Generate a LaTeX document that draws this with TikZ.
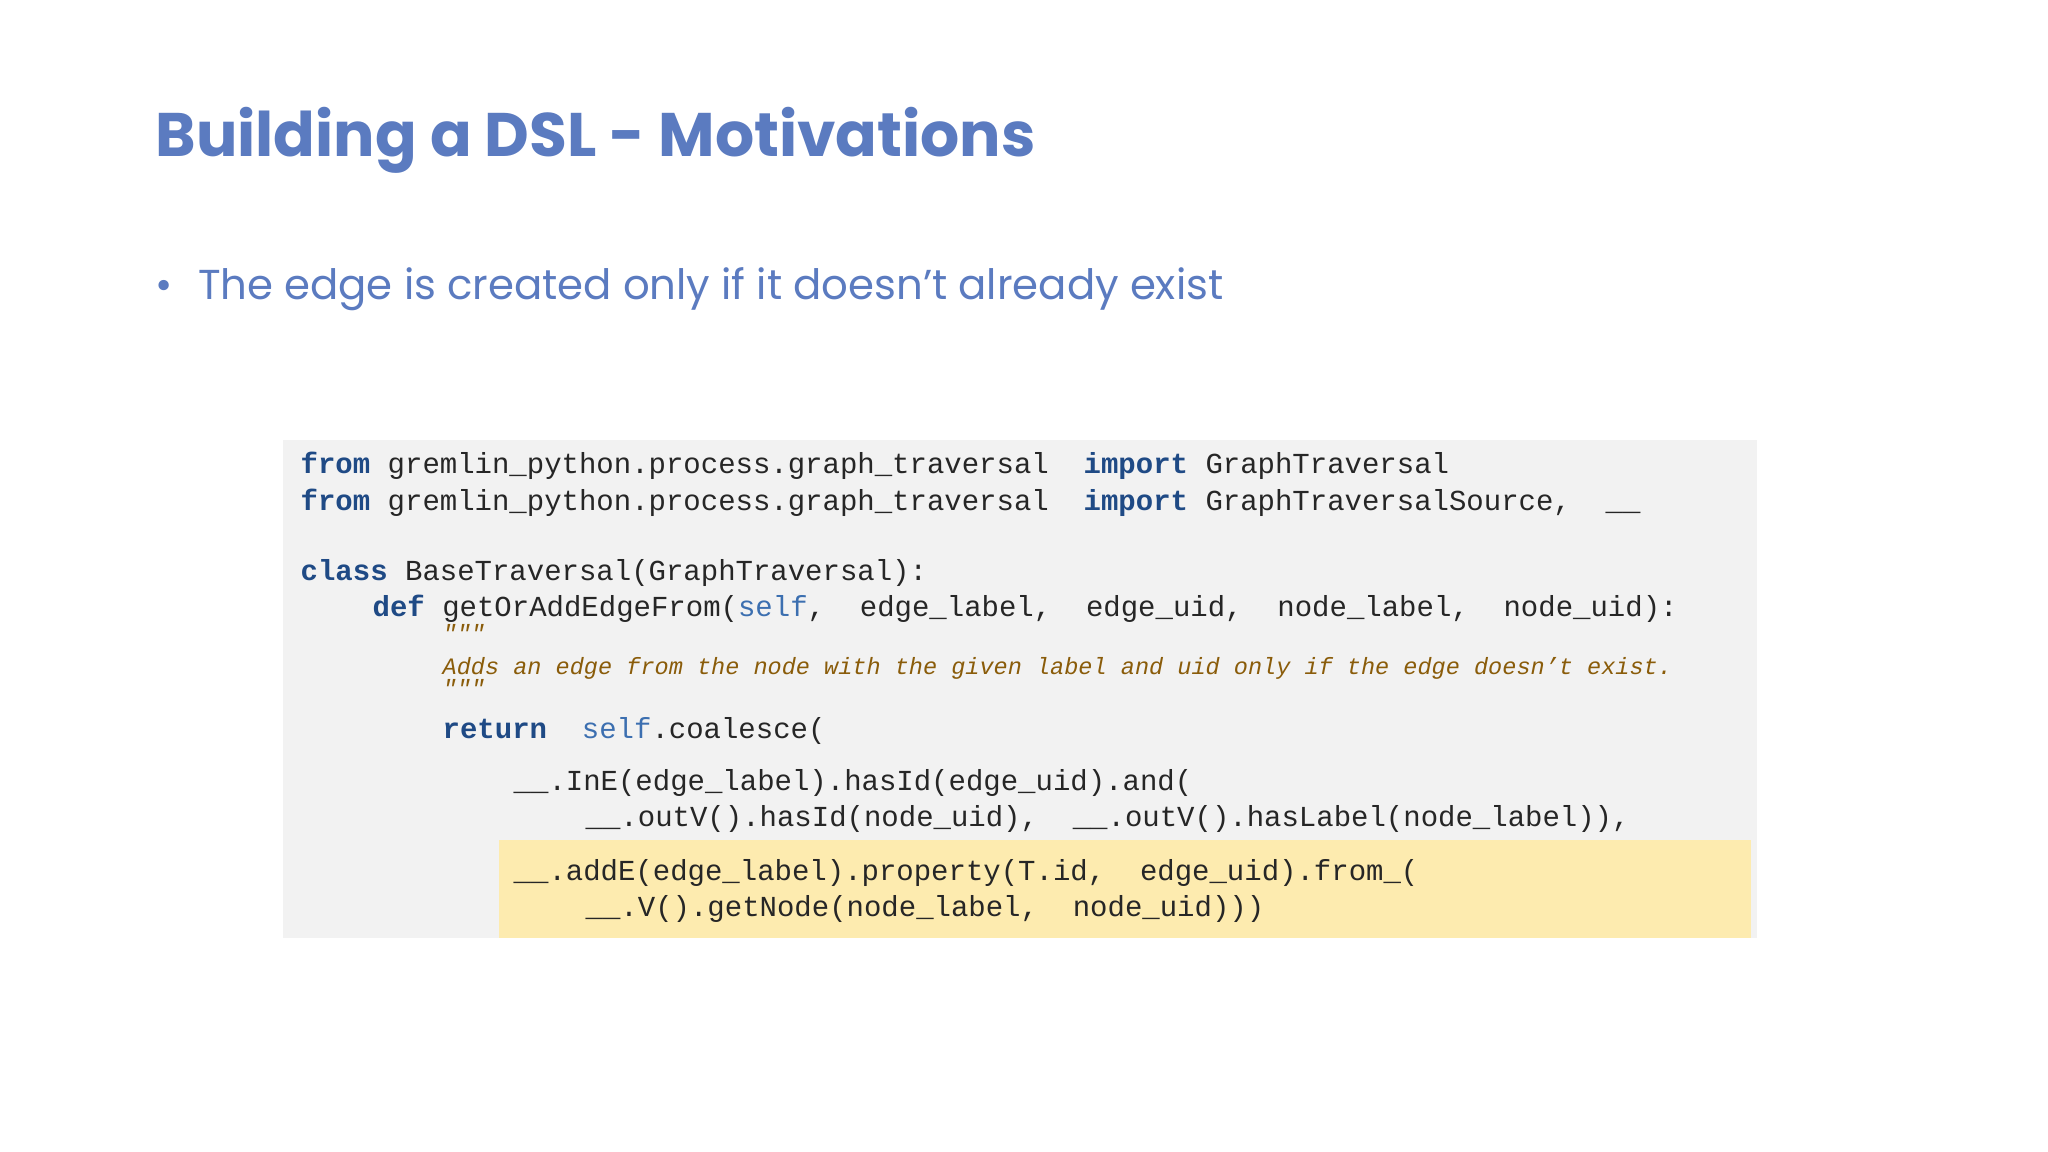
\documentclass[tikz,border=0pt]{standalone}
\usepackage{fontspec}
\setmainfont{Poppins}
\setmonofont{Liberation Mono}
\usepackage{xcolor}
\usetikzlibrary{positioning}
\definecolor{titleblue}{HTML}{5B7BC0}
\definecolor{kwblue}{HTML}{1F4A85}
\definecolor{selfblue}{HTML}{3C6FB0}
\definecolor{docbrown}{HTML}{8A5C0A}
\definecolor{codebg}{HTML}{F2F2F2}
\definecolor{hlyellow}{HTML}{FDEBAF}
\newcommand{\kw}[1]{\textbf{\color{kwblue}#1}}
\newcommand{\slf}{{\color{selfblue}self}}
\tikzset{
  codeline/.style={anchor=base west, inner sep=0pt, font=\fontsize{8.25}{10}\ttfamily, text=black!85},
  docline/.style={anchor=base west, inner sep=0pt, font=\fontsize{6.7}{8}\ttfamily\itshape, text=docbrown}
}
\begin{document}
\begin{tikzpicture}[x=1cm,y=1cm]
        % Page
        \useasboundingbox (0,0) rectangle (20.48,-11.52);
        \fill[white] (0,0) rectangle (20.48,-11.52);

        % Title and bullet
        \node[anchor=base west, inner sep=0pt, text=titleblue, font=\fontsize{17.5}{21}\selectfont\bfseries] (title) at (1.55,-1.57) {Building a DSL - Motivations};
        \node[anchor=base west, inner sep=0pt, text=titleblue, font=\fontsize{11.9}{14}\selectfont] (bullet) at (1.55,-3.0) {\textbullet\hspace{0.6em}The edge is created only if it doesn’t already exist};

        % Code panel
        \fill[codebg] (2.83,-4.40) rectangle (17.57,-9.38);
        \fill[hlyellow] (4.99,-8.40) rectangle (17.51,-9.38);

        % Code lines
        \node[codeline] (l1) at (3.00,-4.74) {\kw{from} gremlin\_python.process.graph\_traversal \ \kw{import} GraphTraversal};
        \node[codeline] (l2) at (3.00,-5.11) {\kw{from} gremlin\_python.process.graph\_traversal \ \kw{import} GraphTraversalSource, \ \_\_};
        \node[codeline] (l3) at (3.00,-5.80) {\kw{class} BaseTraversal(GraphTraversal):};
        \node[codeline] (l4) at (3.72,-6.17) {\kw{def} getOrAddEdgeFrom(\slf, \ edge\_label, \ edge\_uid, \ node\_label, \ node\_uid):};
        \node[docline] (d1) at (4.42,-6.42) {"""};
        \node[docline] (d2) at (4.42,-6.74) {Adds an edge from the node with the given label and uid only if the edge doesn’t exist.};
        \node[docline] (d3) at (4.42,-6.97) {"""};
        \node[codeline] (l5) at (4.42,-7.38) {\kw{return} \ \slf.coalesce(};
        \node[codeline] (l6) at (5.13,-7.90) {\_\_.InE(edge\_label).hasId(edge\_uid).and(};
        \node[codeline] (l7) at (5.85,-8.27) {\_\_.outV().hasId(node\_uid), \ \_\_.outV().hasLabel(node\_label)),};
        \node[codeline] (l8) at (5.13,-8.80) {\_\_.addE(edge\_label).property(T.id, \ edge\_uid).from\_(};
        \node[codeline] (l9) at (5.85,-9.17) {\_\_.V().getNode(node\_label, \ node\_uid)))};
\end{tikzpicture}
\end{document}
